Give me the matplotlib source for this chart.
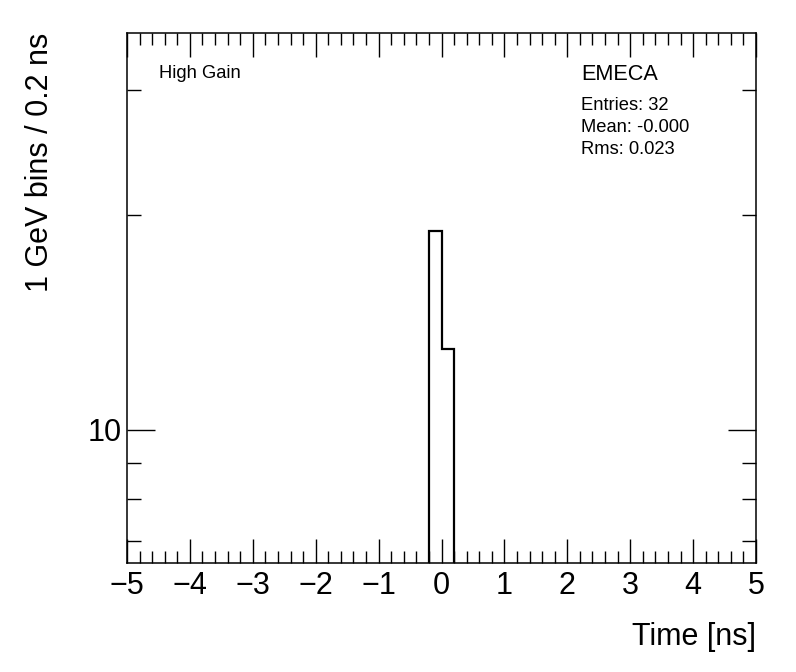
import matplotlib
matplotlib.use("Agg")
import matplotlib.pyplot as plt
from matplotlib.ticker import LogLocator, NullFormatter, FixedLocator, MultipleLocator, FuncFormatter
import numpy as np

plt.rcParams['font.family'] = ['Liberation Sans', 'DejaVu Sans']

bin_edges = [-0.2, 0.0, 0.2]
counts = [19, 13]
x_ticks = [-5, -4, -3, -2, -1, 0, 1, 2, 3, 4, 5]
stats_lines = ["Entries: 32", "Mean: -0.000", "Rms: 0.023"]

fig = plt.figure(figsize=(7.96, 6.72), dpi=100)
ax = fig.add_axes([127/796, 1-563/672, (756-127)/796, (563-33)/672])

ax.stairs(counts, bin_edges, baseline=1e-3, color='black', linewidth=1.6)

ax.set_xlim(-5, 5)
ax.set_yscale('log')
ax.set_ylim(6.51, 36.0)

ax.xaxis.set_major_locator(FixedLocator(x_ticks))
ax.xaxis.set_minor_locator(MultipleLocator(0.2))
ax.xaxis.set_major_formatter(FuncFormatter(lambda v, p: ("\u2212%d" % abs(v)) if v < 0 else "%d" % v))
ax.yaxis.set_major_locator(LogLocator(base=10, subs=(1.0,)))
ax.yaxis.set_minor_locator(LogLocator(base=10, subs=np.arange(2, 10)))
ax.yaxis.set_minor_formatter(NullFormatter())
ax.yaxis.set_major_formatter(FuncFormatter(lambda v, p: "%d" % round(v)))

ax.tick_params(axis='x', which='major', direction='in', length=17, width=1.0, top=True, bottom=True, labelsize=22, pad=6)
ax.tick_params(axis='x', which='minor', direction='in', length=8.5, width=1.0, top=True, bottom=True)
ax.tick_params(axis='y', which='major', direction='in', length=20, width=1.0, left=True, right=True, labelsize=22, pad=4)
ax.tick_params(axis='y', which='minor', direction='in', length=10, width=1.0, left=True, right=True)
for s in ax.spines.values():
    s.set_linewidth(1.1)

fig.text(756/796, 1-637/672, "Time [ns]", ha='right', va='center', fontsize=22)
fig.text(40/796, 1-33/672, "1 GeV bins / 0.2 ns", ha='center', va='top', rotation=90, fontsize=22)

fig.text(159/796, 1-74/672, "High Gain", ha='left', va='center', fontsize=13.2)
fig.text(581/796, 1-74/672, "EMECA", ha='left', va='center', fontsize=15.6)
for i, line in enumerate(stats_lines):
    fig.text(581/796, 1-(106+21.5*i)/672, line, ha='left', va='center', fontsize=13.2)

fig.savefig("out.png", dpi=100)
